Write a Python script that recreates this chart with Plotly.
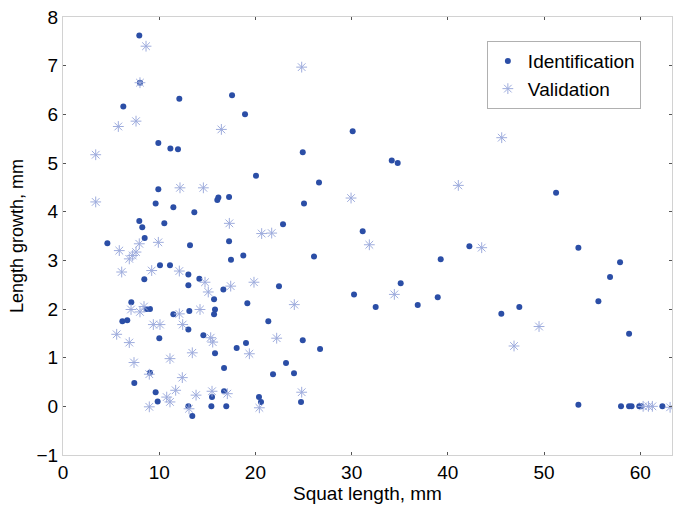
import plotly.graph_objects as go

# Identification data (filled dots)
id_x = [7.93, 8.0, 12.09, 17.57, 6.27, 9.91, 11.16, 11.95, 9.91, 9.63, 11.47, 16.04, 16.15, 17.26,
        13.65, 7.93, 10.53, 8.24, 8.49, 4.61, 13.2, 17.26, 17.46, 10.08, 11.12, 13.03, 8.45, 14.17,
        13.03, 16.67, 15.7, 7.1, 8.7, 9.04, 11.47, 13.13, 15.8, 15.7, 6.17, 6.68, 13.03, 14.59,
        10.01, 15.8, 18.05, 9.04, 16.74, 7.41, 9.63, 9.84, 15.49, 16.74, 13.03, 13.44, 15.42, 16.97,
        18.92, 30.11, 24.92, 34.17, 34.79, 20.06, 26.61, 25.05, 22.87, 31.15, 18.74, 26.09, 39.26,
        22.45, 35.1, 30.25, 38.95, 19.16, 32.5, 36.87, 21.34, 19.02, 24.92, 26.72, 23.18, 21.83,
        24.01, 20.37, 20.58, 24.74, 51.25, 42.24, 53.57, 57.9, 56.86, 55.65, 47.43, 45.56, 58.84,
        53.57, 58.0, 58.84, 59.1, 59.9, 60.1, 62.3]
id_y = [7.62, 6.65, 6.32, 6.39, 6.16, 5.41, 5.30, 5.28, 4.46, 4.17, 4.09, 4.24, 4.29, 4.30,
        3.99, 3.81, 3.76, 3.68, 3.46, 3.35, 3.31, 3.39, 3.01, 2.90, 2.90, 2.71, 2.61, 2.62,
        2.49, 2.40, 2.20, 2.14, 2.0, 2.0, 1.89, 1.96, 1.99, 1.89, 1.75, 1.77, 1.58, 1.46,
        1.40, 1.09, 1.20, 0.69, 0.79, 0.48, 0.29, 0.10, 0.19, 0.31, 0.0, -0.2, 0.0, 0.0,
        6.0, 5.65, 5.22, 5.05, 5.0, 4.74, 4.60, 4.17, 3.74, 3.60, 3.10, 3.08, 3.02,
        2.47, 2.53, 2.30, 2.24, 2.12, 2.04, 2.08, 1.75, 1.30, 1.36, 1.18, 0.89, 0.66,
        0.68, 0.19, 0.09, 0.09, 4.39, 3.29, 3.26, 2.96, 2.66, 2.16, 2.04, 1.90, 1.49,
        0.03, 0.0, 0.0, 0.0, 0.0, 0.0, 0.0]

# Validation data (asterisks)
val_x = [8.63, 8.0, 7.59, 5.75, 16.46, 3.4, 12.16, 14.59, 3.4, 17.29, 7.93, 9.91, 5.85, 7.59,
         7.24, 6.89, 6.1, 9.22, 12.09, 14.76, 15.1, 17.43, 7.07, 8.0, 8.42, 12.09, 14.24, 9.39,
         10.08, 12.44, 5.58, 15.35, 15.56, 6.89, 13.44, 11.12, 7.38, 8.97, 12.4, 11.71, 10.78,
         11.12, 13.83, 15.49, 17.08, 8.97, 13.1, 24.81, 29.94, 20.65, 21.69, 31.84, 19.85, 34.44,
         24.04, 22.21, 19.37, 24.81, 20.41, 41.09, 43.52, 45.6, 49.48, 46.88, 60.3, 60.85, 61.26,
         63.1]
val_y = [7.40, 6.65, 5.86, 5.75, 5.69, 5.17, 4.49, 4.49, 4.20, 3.76, 3.34, 3.37, 3.20, 3.17,
         3.10, 3.03, 2.76, 2.79, 2.78, 2.55, 2.35, 2.47, 1.99, 1.94, 2.05, 1.90, 1.99, 1.68,
         1.68, 1.68, 1.48, 1.41, 1.32, 1.31, 1.10, 0.98, 0.90, 0.66, 0.59, 0.33, 0.19,
         0.09, 0.23, 0.31, 0.26, -0.01, -0.05, 6.97, 4.28, 3.55, 3.56, 3.32, 2.55, 2.30,
         2.09, 1.40, 1.08, 0.29, -0.03, 4.54, 3.26, 5.52, 1.64, 1.24, 0.0, 0.0, 0.0,
         -0.02]

x_ticks = [0, 10, 20, 30, 40, 50, 60]
y_ticks = [-1, 0, 1, 2, 3, 4, 5, 6, 7, 8]

FONT = "Liberation Sans, Arial, Helvetica, sans-serif"

fig = go.Figure()
fig.add_trace(go.Scatter(
    x=id_x, y=id_y, mode="markers", name="Identification",
    marker=dict(symbol="circle", size=6, color="#2b4ea6", line=dict(width=0)),
))
fig.add_trace(go.Scatter(
    x=val_x, y=val_y, mode="markers", name="Validation",
    marker=dict(symbol="asterisk-open", size=9, color="#9eacdd",
                line=dict(width=1, color="#9eacdd")),
))

axis_common = dict(
    showgrid=False, zeroline=False, showline=True, linecolor="#d2d2d2", linewidth=1,
    mirror="ticks", ticks="inside", ticklen=3, tickcolor="#555555", tickwidth=1,
    tickfont=dict(family=FONT, size=19, color="black"),
)

fig.update_layout(
    width=675, height=509,
    margin=dict(l=63, r=3, t=17, b=54),
    paper_bgcolor="white", plot_bgcolor="white",
    font=dict(family=FONT, color="black"),
    xaxis=dict(range=[0, 63.3], tickvals=x_ticks,
               title=dict(text="Squat length, mm", font=dict(family=FONT, size=19), standoff=4),
               **axis_common),
    yaxis=dict(range=[-1, 8], tickvals=y_ticks,
               title=dict(text="Length growth, mm", font=dict(family=FONT, size=18), standoff=8),
               **axis_common),
    legend=dict(x=0.696, y=0.945, xanchor="left", yanchor="top",
                bgcolor="white", bordercolor="#b0b0b0", borderwidth=1,
                font=dict(family=FONT, size=19, color="black"),
                tracegroupgap=0),
    showlegend=True,
)

fig.write_html("out.html")
